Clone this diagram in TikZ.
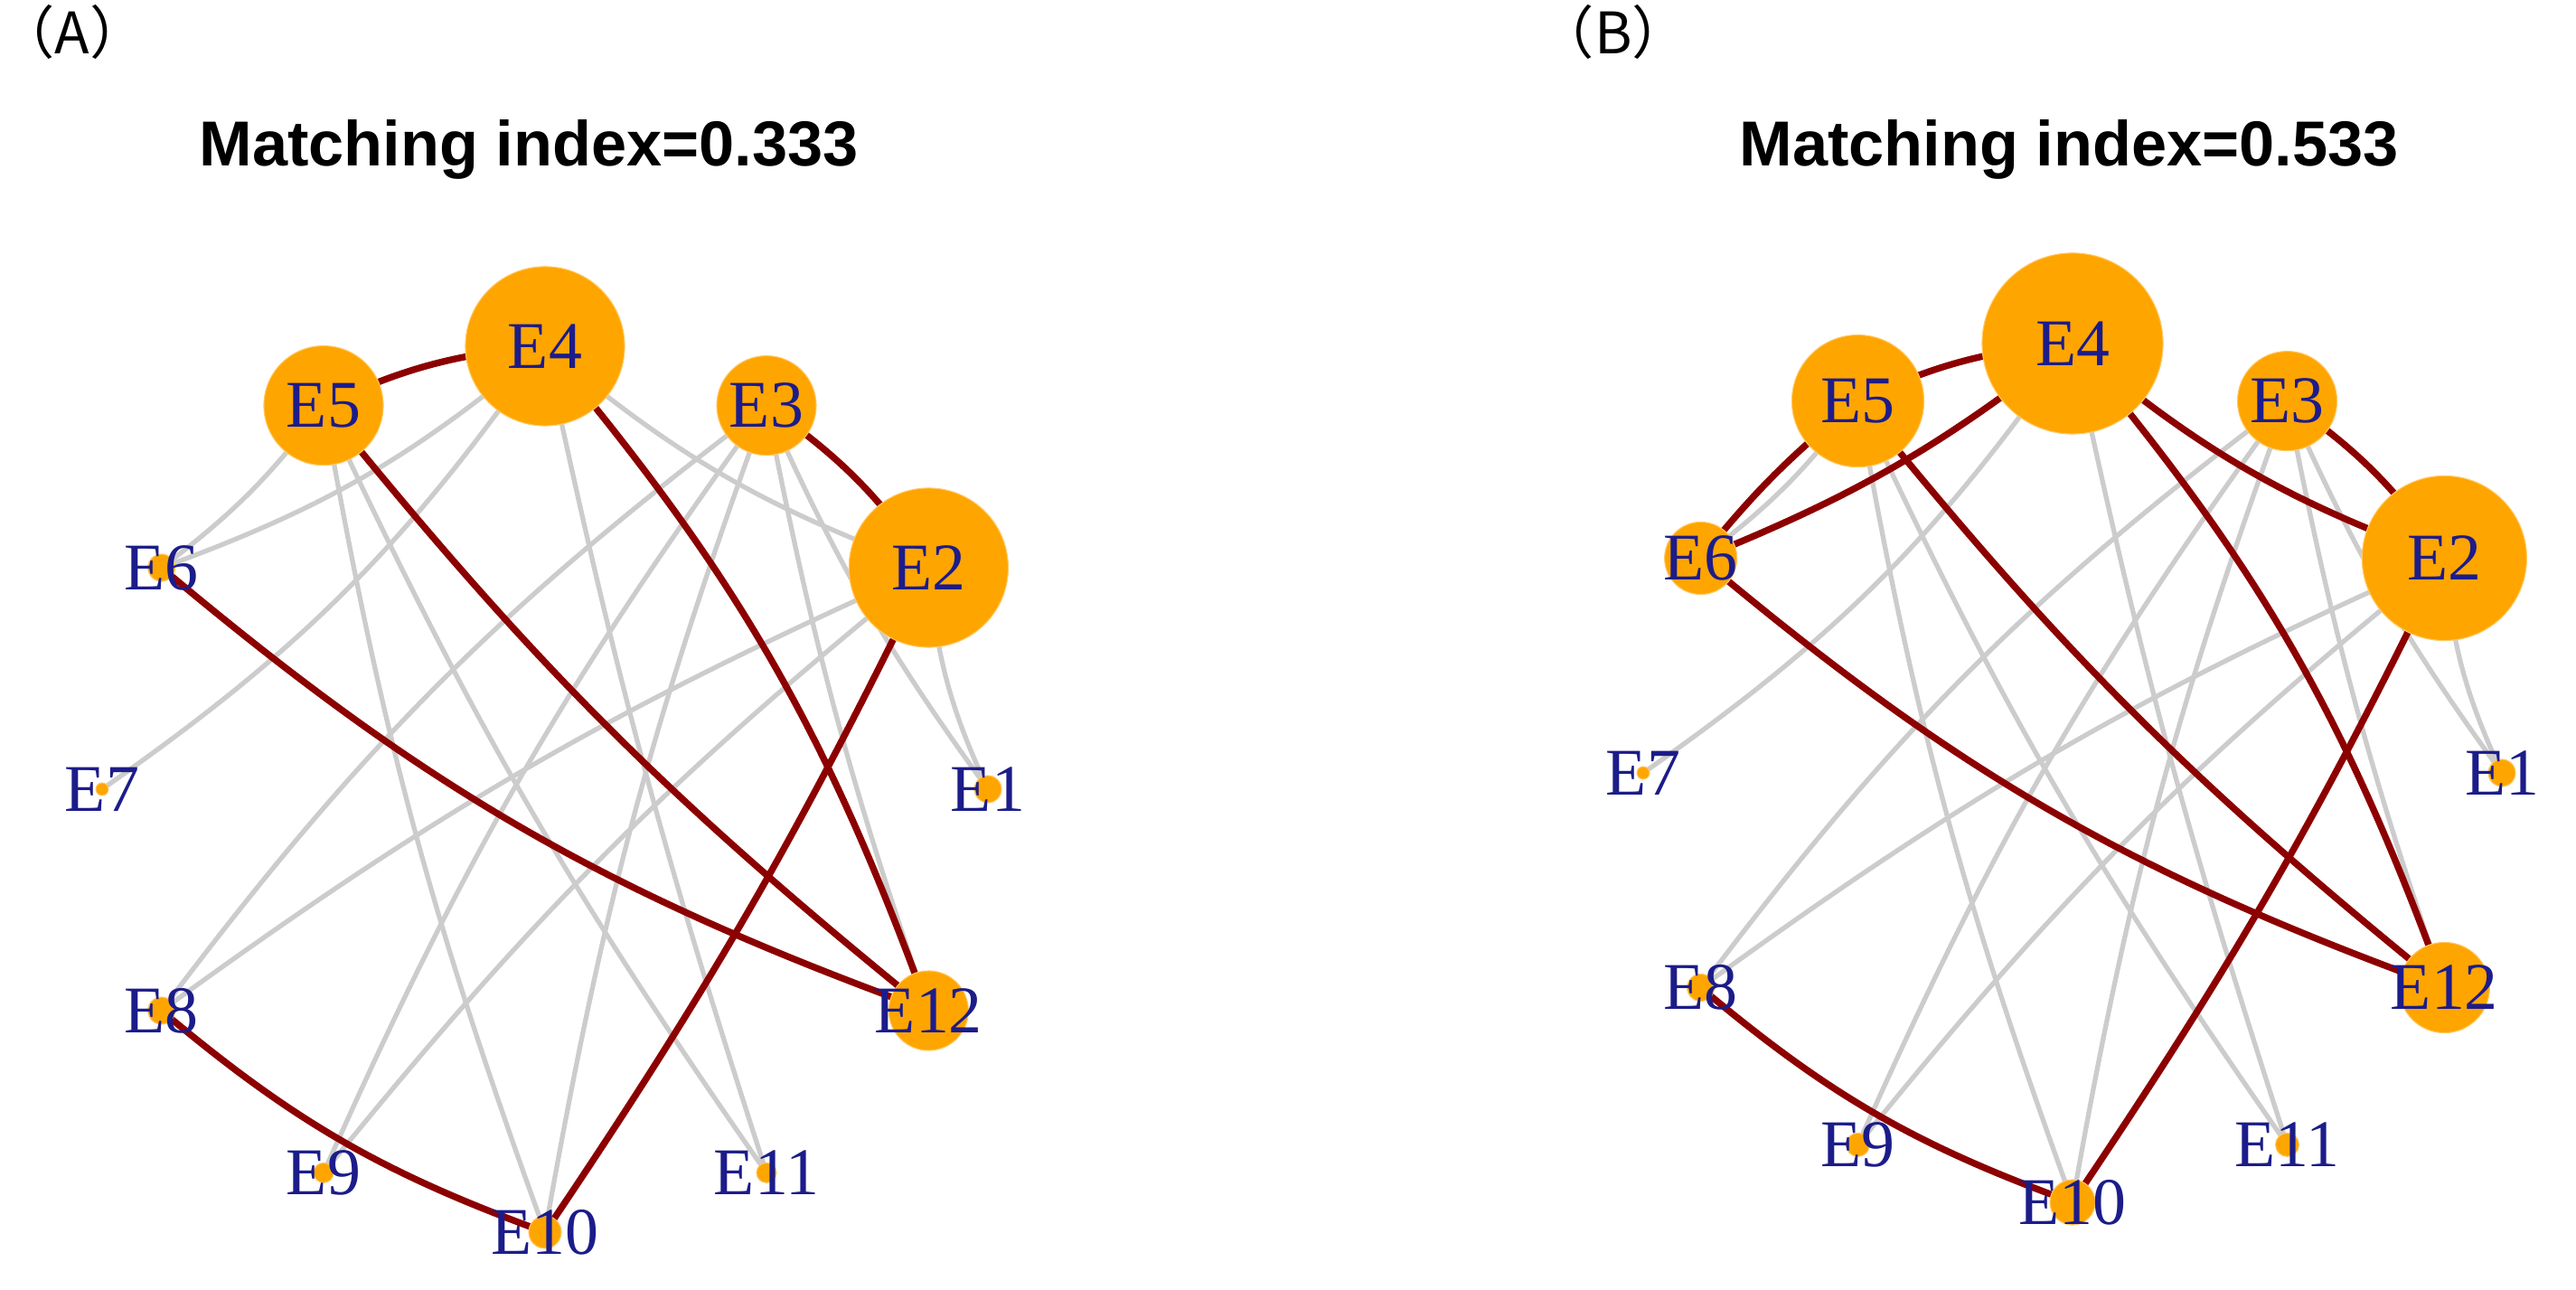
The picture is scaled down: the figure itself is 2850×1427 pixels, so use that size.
\documentclass[tikz,border=0pt]{standalone}
\usetikzlibrary{calc}
\usepackage{fontspec}
\setmainfont{Liberation Serif}
\newfontfamily\ttlfont{Liberation Sans}
\newfontfamily\cjk{Noto Sans CJK SC}
\definecolor{vorange}{HTML}{FFA500}
\definecolor{vnavy}{HTML}{1C1C8A}
\begin{document}
\begin{tikzpicture}[x=0.01cm,y=0.01cm,
  gedge/.style={draw=gray!40,line width=1.5pt},
  redge/.style={draw=red!55!black,line width=2.1pt},
  vtx/.style={circle,fill=vorange,draw=vorange!60!white,line width=0.3pt,inner sep=0pt,minimum size=#1},
  lab/.style={text=vnavy,font=\fontsize{21}{21}\selectfont,inner sep=0pt},
  ttl/.style={font=\ttlfont\bfseries\fontsize{20}{20}\selectfont},
  pan/.style={font=\cjk\fontsize{18}{18}\selectfont}]
\useasboundingbox (0,0) rectangle (2850,1427);
\fill[white] (0,0) rectangle (2850,1427);
% coordinates
\foreach \k in {1,...,12}{
  \coordinate (a\k) at ($(603,554)+({(\k-1)*30}:490)$);
  \coordinate (b\k) at ($(2293,572)+({(\k-1)*30}:475)$);
}
% ---------- panel A edges
\foreach \u/\v/\b in {6/5/8,6/4/10,7/4/10,5/11/5,5/10/5,4/2/10,4/11/3,3/8/8,3/9/6,3/1/6,3/10/5,2/1/10,2/8/6,2/9/6,3/12/4}
  \draw[gedge] (a\u) to[bend right=\b] (a\v);
\draw[redge] (a5) to[bend left=10] (a4);
\draw[redge] (a3) to[bend left=10] (a2);
\draw[redge] (a5) to[bend right=6] (a12);
\draw[redge] (a4) to[bend left=10] (a12);
\draw[redge] (a6) to[bend right=10] (a12);
\draw[redge] (a10) to[bend right=4] (a2);
\draw[redge] (a8) to[bend right=10] (a10);
% ---------- panel B edges
\foreach \u/\v/\b in {6/5/8,7/4/10,5/11/5,5/10/5,4/2/10,4/11/3,3/8/8,3/9/6,3/1/6,3/10/5,2/1/10,2/8/6,2/9/6,3/12/4}
  \draw[gedge] (b\u) to[bend right=\b] (b\v);
\draw[redge] (b5) to[bend left=10] (b4);
\draw[redge] (b6) to[bend left=6] (b5);
\draw[redge] (b6) to[bend right=8] (b4);
\draw[redge] (b4) to[bend right=10] (b2);
\draw[redge] (b3) to[bend left=10] (b2);
\draw[redge] (b5) to[bend right=6] (b12);
\draw[redge] (b4) to[bend left=10] (b12);
\draw[redge] (b6) to[bend right=10] (b12);
\draw[redge] (b10) to[bend right=4] (b2);
\draw[redge] (b8) to[bend right=10] (b10);
% ---------- vertices
\foreach \k/\r in {1/15,2/88,3/55,4/88,5/66,6/15,7/7,8/15,9/11,10/18,11/11,12/44}{
  \node[vtx=\r*0.02cm] (va\k) at (a\k) {};
  \node[lab] (ta\k) at (a\k) {E\k};
}
\foreach \k/\r in {1/15,2/91,3/55,4/100,5/73,6/40,7/7,8/15,9/13,10/25,11/13,12/50}{
  \node[vtx=\r*0.02cm] (vb\k) at (b\k) {};
  \node[lab] (tb\k) at (b\k) {E\k};
}
% ---------- titles
\node[ttl] (tA) at (585,1262) {Matching index=0.333};
\node[ttl] (tB) at (2289,1262) {Matching index=0.533};
\node[pan] (pA) at (80,1392) {（A）};
\node[pan] (pB) at (1785,1392) {（B）};
\end{tikzpicture}
\end{document}
